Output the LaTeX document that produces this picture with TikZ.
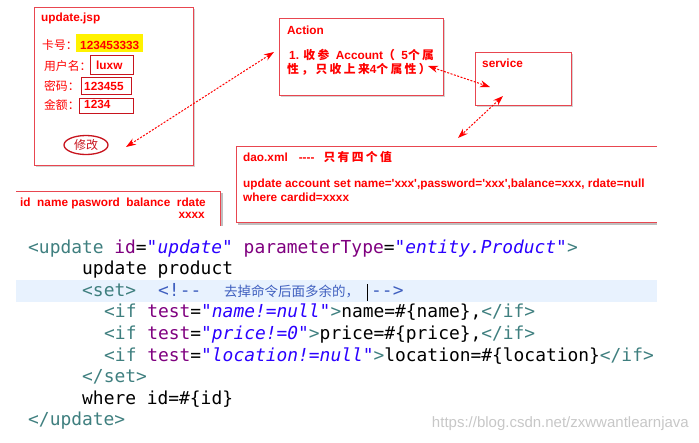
\documentclass[tikz,border=0pt]{standalone}
\usepackage{fontspec}
\usepackage{xcolor}
\setmonofont{DejaVu Sans Mono}
\newfontfamily\lbl{Liberation Sans}
\newfontfamily\cjk{Noto Sans CJK SC}
\newfontfamily\cjksp{Noto Sans CJK SC}[LetterSpace=20]
\usetikzlibrary{shapes, arrows.meta, calc, positioning, shadows}

\definecolor{boxred}{RGB}{232,70,80}
\definecolor{valred}{RGB}{200,20,30}
\definecolor{tagc}{RGB}{63,127,127}
\definecolor{attrc}{RGB}{127,0,127}
\definecolor{valc}{RGB}{42,0,255}
\definecolor{cmtc}{RGB}{63,95,191}
\definecolor{linehl}{RGB}{232,242,254}

\newcommand{\zh}[1]{{\cjk\mdseries #1}}
\newcommand{\zhs}[1]{{\cjksp #1}}
\newcommand{\tg}[1]{\textcolor{tagc}{#1}}
\newcommand{\attr}[1]{\textcolor{attrc}{#1}}
\newcommand{\va}[1]{\textcolor{valc}{\itshape #1}}

\begin{document}
\begin{tikzpicture}[x=1pt, y=-1pt,
  box/.style = {draw=boxred, line width=1pt, fill=white, anchor=north west, inner sep=0,
    drop shadow={shadow xshift=1.5pt, shadow yshift=-1.5pt, opacity=.35}},
  field/.style = {draw=valred, line width=1.3pt, anchor=north west, inner sep=0},
  lab/.style = {text=red, font=\lbl\bfseries\fontsize{11.8}{14}\selectfont, anchor=base west, inner sep=0},
  code/.style = {font=\ttfamily\fontsize{17.9}{20}\selectfont, anchor=base west, inner sep=0},
  link/.style = {{Stealth[length=10pt,width=7pt]}-{Stealth[length=10pt,width=7pt]}, red, dashed, dash pattern=on 2pt off 1.5pt, line width=1pt}]
\useasboundingbox (0,0) rectangle (699,442);

% jsp form
\node[box, minimum width=159pt, minimum height=158pt] (jsp) at (34,7) {};
\node[lab] (jspTitle) at (41,21) {update.jsp};
\node[lab] (cardLab) at (42,49) {\zh{卡号：}};
\node[fill=yellow, anchor=north west, inner sep=0, minimum width=67pt, minimum height=18pt] (card) at (76,34) {};
\node[lab] (cardTxt) at (80,49) {123453333};
\node[lab] (userLab) at (44,70) {\zh{用户名：}};
\node[field, minimum width=43pt, minimum height=19pt] (user) at (90,55) {};
\node[lab] (userTxt) at (96,69) {luxw};
\node[lab] (pwdLab) at (44,90) {\zh{密码：}};
\node[field, minimum width=50pt, minimum height=17pt] (pwd) at (81,77) {};
\node[lab] (pwdTxt) at (84,90) {123455};
\node[lab] (balLab) at (44,109) {\zh{金额：}};
\node[field, minimum width=54pt, minimum height=15pt] (bal) at (79,98) {};
\node[lab] (balTxt) at (84,108) {1234};
\node[ellipse, draw=valred, line width=1.3pt, minimum width=44pt, minimum height=19pt, inner sep=0,
  text=valred, font=\cjk\fontsize{12}{14}\selectfont] (modify) at (86,145) {修改};

% action and service
\node[box, minimum width=164pt, minimum height=77pt] (action) at (279,18) {};
\node[lab] (actTitle) at (287,34) {Action};
\node[lab] (actL1) at (289,59) {1. \zhs{收参}\ \ Account\zhs{（}\ \ 5\zhs{个属}};
\node[lab] (actL2) at (287,73) {\zhs{性，只收上来}4\zhs{个属性）}};
\node[box, minimum width=96pt, minimum height=53pt] (service) at (475,52) {};
\node[lab] (svcTitle) at (482,67) {service};

% dao
\draw[black!25, line width=1.5pt] (238,224) -- (657,224);
\draw[boxred, line width=1pt] (657,146) -- (236,146) -- (236,222) -- (657,222);
\node[lab] (daoTitle) at (243,161) {dao.xml\hspace{11pt}----\hspace{9pt}\zhs{只有四个值}};
\node[lab] (daoL1) at (243,187) {update account set name='xxx',password='xxx',balance=xxx, rdate=null};
\node[lab] (daoL2) at (243,201) {where cardid=xxxx};

% table columns
\draw[black!25, line width=1.5pt] (222,193) -- (222,226);
\draw[boxred, line width=1pt] (16,191) -- (220,191) -- (220,226);
\node[lab] (cols) at (20,206) {id\ \ name pasword\ \ balance\ \ rdate};
\node[lab, anchor=base east] (colsVal) at (205,218) {xxxx};

% links
\coordinate (modEnd) at (126,147);
\coordinate (actIn) at (274,52);
\coordinate (actOut) at (428,66);
\coordinate (svcIn) at (490,87);
\coordinate (svcOut) at (503,96);
\coordinate (daoIn) at (458,138);
\draw[link] (modEnd) -- (actIn);
\draw[link] (actOut) -- (svcIn);
\draw[link] (svcOut) -- (daoIn);

% mapper code
\fill[linehl] (16,280) rectangle (657,302);
\node[code] (c1) at (28,253) {\tg{<update} \attr{id}=\va{"update"} \attr{parameterType}=\va{"entity.Product"}\tg{>}};
\node[code] (c2) at (82,274.6) {update product};
\node[code] (c3) at (82,296.2) {\tg{<set>}};
\node[code, text=cmtc] (c3open) at (158,296.2) {<!--};
\node[anchor=base west, inner sep=0, text=cmtc, font=\cjk\fontsize{13.5}{15}\selectfont] (c3note) at (224,296.2) {去掉命令后面多余的，};
\draw[line width=1pt] (367,284) -- (367,301);
\node[code, text=cmtc] (c3close) at (371,296.2) {-->};
\node[code] (c4) at (104,317.8) {\tg{<if} \attr{test}=\va{"name!=null"}\tg{>}name=\#\{name\},\tg{</if>}};
\node[code] (c5) at (104,339.4) {\tg{<if} \attr{test}=\va{"price!=0"}\tg{>}price=\#\{price\},\tg{</if>}};
\node[code] (c6) at (104,361) {\tg{<if} \attr{test}=\va{"location!=null"}\tg{>}location=\#\{location\}\tg{</if>}};
\node[code] (c7) at (82,382.6) {\tg{</set>}};
\node[code] (c8) at (82,404.2) {where id=\#\{id\}};
\node[code] (c9) at (28,425.8) {\tg{</update>}};

\node[anchor=base east, inner sep=0, text=black!22, font=\lbl\fontsize{15}{17}\selectfont] (mark) at (689,427) {https://blog.csdn.net/zxwwantlearnjava};
\end{tikzpicture}
\end{document}
